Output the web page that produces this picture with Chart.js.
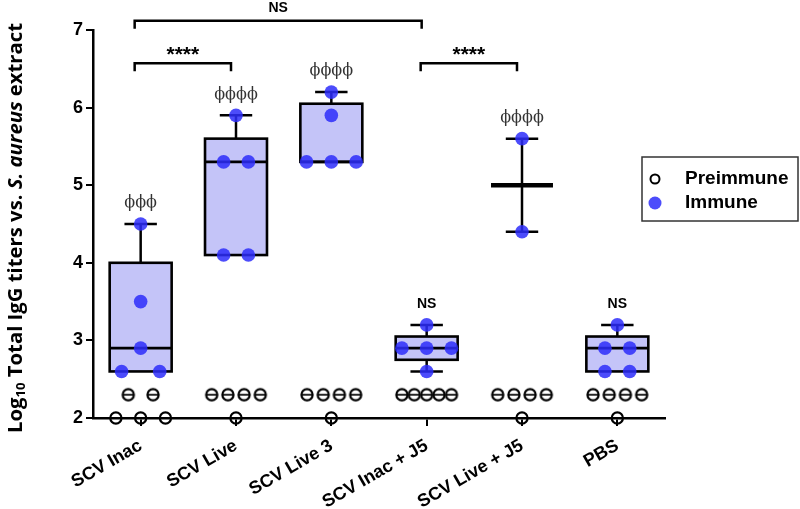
<!DOCTYPE html>
<html>
<head>
  <title>IgG titers</title>
  <script src="https://cdn.jsdelivr.net/npm/chart.js"></script>
  <style>body{margin:0;background:#fff}</style>
</head>
<body>
  <canvas id="chart" width="800" height="509"></canvas>
  <script>
    const categories = ['SCV Inac', 'SCV Live', 'SCV Live 3', 'SCV Inac + J5', 'SCV Live + J5', 'PBS'];
    // log10 titers, one small list per group
    const immuneValues = [
      [4.5, 3.5, 2.9, 2.6, 2.6],
      [5.9, 5.3, 5.3, 4.1, 4.1],
      [6.2, 5.9, 5.3, 5.3, 5.3],
      [3.2, 2.9, 2.9, 2.9, 2.6],
      [5.6, 4.4],
      [3.2, 2.9, 2.9, 2.6, 2.6]
    ];
    const preimmuneValues = [
      [2.3, 2.3, 2, 2, 2],
      [2.3, 2.3, 2.3, 2.3, 2],
      [2.3, 2.3, 2.3, 2.3, 2],
      [2.3, 2.3, 2.3, 2.3, 2.3],
      [2.3, 2.3, 2.3, 2.3, 2],
      [2.3, 2.3, 2.3, 2.3, 2]
    ];
    const groupMarks = ['ϕϕϕ', 'ϕϕϕϕ', 'ϕϕϕϕ', 'NS', 'ϕϕϕϕ', 'NS'];
    const comparisons = [
      { from: 0, to: 3, y: 7.12, label: 'NS' },
      { from: 0, to: 1, y: 6.57, label: '****' },
      { from: 3, to: 4, y: 6.57, label: '****' }
    ];
    const immuneSpread = [0.4, 0.26, 0.26, 0.26, 0.26, 0.26];
    const preSpread = [0.26, 0.17, 0.17, 0.13, 0.17, 0.17];

    // spread equal values side by side around the category centre
    function scatter(groups, spread) {
      const pts = [];
      groups.forEach((vals, i) => {
        const seen = {};
        vals.forEach(v => { seen[v] = (seen[v] || 0) + 1; });
        const used = {};
        vals.forEach(v => {
          const n = seen[v], k = used[v] = (used[v] || 0) + 1;
          pts.push({ x: i + (k - 1 - (n - 1) / 2) * spread[i], y: v });
        });
      });
      return pts;
    }

    function quartiles(vals) {
      const s = [...vals].sort((a, b) => a - b), n = s.length;
      const at = p => {
        const pos = p * (n + 1) - 1, lo = Math.floor(pos), f = pos - lo;
        if (lo < 0) return s[0];
        if (lo >= n - 1) return s[n - 1];
        return s[lo] + f * (s[lo + 1] - s[lo]);
      };
      const med = n % 2 ? s[(n - 1) / 2] : (s[n / 2 - 1] + s[n / 2]) / 2;
      return { min: s[0], q1: at(0.25), med, q3: at(0.75), max: s[n - 1], n };
    }

    // open circle with a bar through it
    const barCircle = document.createElement('canvas');
    barCircle.width = 16; barCircle.height = 16;
    (function () {
      const c = barCircle.getContext('2d');
      c.strokeStyle = '#000'; c.lineWidth = 2.2;
      c.beginPath(); c.arc(8, 8, 5.6, 0, Math.PI * 2); c.stroke();
      c.lineWidth = 1.7;
      c.beginPath(); c.moveTo(2.5, 8); c.lineTo(13.5, 8); c.stroke();
    })();

    const BOX_FILL = 'rgb(196,196,248)';
    const DOT = 'rgba(45,45,250,0.85)';

    const boxPlugin = {
      id: 'boxes',
      beforeDatasetsDraw(chart) {
        const { ctx, scales: { x, y } } = chart;
        const unit = x.getPixelForValue(1) - x.getPixelForValue(0);
        ctx.save();
        ctx.strokeStyle = '#000';
        immuneValues.forEach((vals, i) => {
          const q = quartiles(vals), cx = x.getPixelForValue(i);
          const hw = unit * 0.325, cw = unit * 0.17;
          const line = (x1, y1, x2, y2, w) => {
            ctx.lineWidth = w; ctx.beginPath(); ctx.moveTo(x1, y1); ctx.lineTo(x2, y2); ctx.stroke();
          };
          if (q.n >= 3) {
            const top = y.getPixelForValue(q.q3), bot = y.getPixelForValue(q.q1);
            ctx.fillStyle = BOX_FILL;
            ctx.fillRect(cx - hw, top, hw * 2, bot - top);
            ctx.lineWidth = 2.6;
            ctx.strokeRect(cx - hw, top, hw * 2, bot - top);
            line(cx - hw, y.getPixelForValue(q.med), cx + hw, y.getPixelForValue(q.med), 2.6);
            if (q.max > q.q3) {
              line(cx, top, cx, y.getPixelForValue(q.max), 2.5);
              line(cx - cw, y.getPixelForValue(q.max), cx + cw, y.getPixelForValue(q.max), 2.5);
            }
            if (q.min < q.q1) {
              line(cx, bot, cx, y.getPixelForValue(q.min), 2.5);
              line(cx - cw, y.getPixelForValue(q.min), cx + cw, y.getPixelForValue(q.min), 2.5);
            }
          } else {
            line(cx, y.getPixelForValue(q.min), cx, y.getPixelForValue(q.max), 2.5);
            line(cx - cw, y.getPixelForValue(q.max), cx + cw, y.getPixelForValue(q.max), 2.5);
            line(cx - cw, y.getPixelForValue(q.min), cx + cw, y.getPixelForValue(q.min), 2.5);
            line(cx - hw, y.getPixelForValue(q.med), cx + hw, y.getPixelForValue(q.med), 4.5);
          }
        });
        ctx.restore();
      },
      afterDraw(chart) {
        const { ctx, scales: { x, y } } = chart;
        ctx.save();
        // marks above each group
        ctx.textAlign = 'center';
        ctx.textBaseline = 'middle';
        immuneValues.forEach((vals, i) => {
          const top = y.getPixelForValue(Math.max(...vals));
          const m = groupMarks[i];
          if (m === 'NS') {
            ctx.font = 'bold 14px "Liberation Sans", Arial';
            ctx.fillStyle = '#000';
          } else {
            ctx.font = '16px "DejaVu Serif", serif';
            ctx.fillStyle = '#333';
          }
          ctx.fillText(m, x.getPixelForValue(i), top - 21);
        });
        // brackets
        ctx.strokeStyle = '#000';
        ctx.fillStyle = '#000';
        ctx.lineWidth = 2.5;
        comparisons.forEach(c => {
          const x1 = x.getPixelForValue(c.from) - 6, x2 = x.getPixelForValue(c.to) - 5;
          const by = y.getPixelForValue(c.y);
          ctx.beginPath();
          ctx.moveTo(x1, by + 8); ctx.lineTo(x1, by); ctx.lineTo(x2, by); ctx.lineTo(x2, by + 8);
          ctx.stroke();
          if (c.label === 'NS') {
            ctx.font = 'bold 14px "Liberation Sans", Arial';
            ctx.fillText(c.label, (x1 + x2) / 2, by - 13);
          } else {
            ctx.font = 'bold 21px "Liberation Sans", Arial';
            ctx.fillText(c.label, (x1 + x2) / 2, by - 8);
          }
        });
        // legend
        ctx.lineWidth = 1.5;
        ctx.strokeStyle = '#333';
        ctx.strokeRect(642, 157, 156, 64);
        ctx.textAlign = 'left';
        ctx.font = 'bold 19px "Liberation Sans", Arial';
        ctx.fillStyle = '#000';
        const ds = chart.data.datasets;
        ctx.strokeStyle = '#000'; ctx.lineWidth = 2;
        ctx.beginPath(); ctx.arc(655, 179, 4.5, 0, Math.PI * 2); ctx.stroke();
        ctx.fillText(ds[1].label, 685, 179);
        ctx.fillStyle = DOT;
        ctx.beginPath(); ctx.arc(655, 203, 6.5, 0, Math.PI * 2); ctx.fill();
        ctx.fillStyle = '#000';
        ctx.fillText(ds[0].label, 685, 203);
        // y axis title with subscript and italics, sized to span ~410px
        const base = 17, fam = '"Open Sans"';
        const parts = [
          { t: 'Log', s: 1 },
          { t: '10', s: 0.65, dy: 0.25 },
          { t: ' Total IgG titers vs. ', s: 1 },
          { t: 'S. aureus', s: 1, it: true },
          { t: ' extract', s: 1 }
        ];
        const fontOf = (p, size) => (p.it ? 'italic ' : '') + 'bold ' + (size * p.s).toFixed(1) + 'px ' + fam;
        const widthAt = size => parts.reduce((w, p) => { ctx.font = fontOf(p, size); return w + ctx.measureText(p.t).width; }, 0);
        const size = base * 410 / widthAt(base);
        let total = 0;
        parts.forEach(p => { ctx.font = fontOf(p, size); p.w = ctx.measureText(p.t).width; total += p.w; });
        ctx.translate(16, (chart.chartArea.top + chart.chartArea.bottom) / 2 + 4);
        ctx.rotate(-Math.PI / 2);
        let cx = -total / 2;
        ctx.textBaseline = 'middle';
        parts.forEach(p => { ctx.font = fontOf(p, size); ctx.fillText(p.t, cx, (p.dy || 0) * size); cx += p.w; });
        ctx.restore();
      }
    };

    new Chart(document.getElementById('chart'), {
      type: 'scatter',
      data: {
        datasets: [
          {
            label: 'Immune',
            data: scatter(immuneValues, immuneSpread),
            backgroundColor: DOT,
            borderWidth: 0,
            pointRadius: 6.8,
            clip: false
          },
          {
            label: 'Preimmune',
            data: scatter(preimmuneValues, preSpread),
            pointStyle: c => (c.raw && c.raw.y > 2 ? barCircle : 'circle'),
            backgroundColor: 'rgba(0,0,0,0)',
            borderColor: '#000',
            borderWidth: 2.2,
            pointRadius: 5.6,
            clip: false
          }
        ]
      },
      options: {
        responsive: false,
        animation: false,
        layout: { padding: { top: 30, right: 135, left: 0, bottom: 0 } },
        plugins: { legend: { display: false }, tooltip: { enabled: false } },
        scales: {
          x: {
            type: 'linear',
            min: -0.5,
            max: 5.5,
            afterBuildTicks: s => { s.ticks = categories.map((c, i) => ({ value: i })); },
            afterFit: s => { s.height = 91; },
            ticks: {
              callback: v => categories[v],
              maxRotation: 30,
              minRotation: 30,
              padding: 9,
              color: '#000',
              font: { family: '"Liberation Sans", Arial', size: 18, weight: 'bold' }
            },
            grid: { drawOnChartArea: false, tickLength: 8, color: '#000', lineWidth: 2 },
            border: { color: '#000', width: 2.5 }
          },
          y: {
            min: 2,
            max: 7,
            afterFit: s => { s.width = 93; },
            ticks: {
              stepSize: 1,
              padding: 3,
              color: '#000',
              font: { family: '"Liberation Sans", Arial', size: 18, weight: 'bold' }
            },
            grid: { drawOnChartArea: false, tickLength: 7, color: '#000', lineWidth: 2 },
            border: { color: '#000', width: 2.5 }
          }
        }
      },
      plugins: [boxPlugin]
    });
  </script>
</body>
</html>
